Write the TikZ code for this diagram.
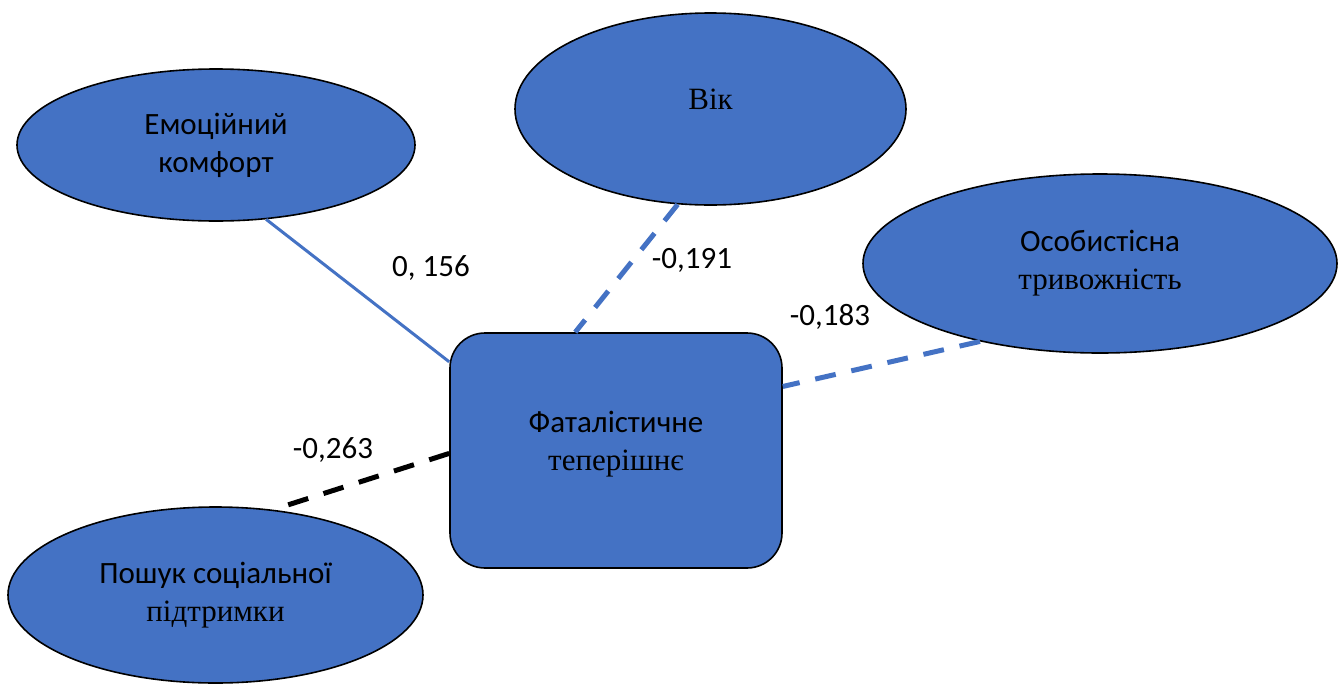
\documentclass[tikz,border=0pt]{standalone}
\usepackage{fontspec}
\setmainfont{Carlito}
\newfontfamily\tmsfont{Liberation Serif}
\usetikzlibrary{shapes.geometric}
\definecolor{accblue}{HTML}{4472C4}
\tikzset{
  factor/.style={ellipse, draw=black, line width=1.6pt, fill=accblue, inner sep=0pt, align=center, font=\fontsize{31}{38}\selectfont},
  fatbox/.style={rectangle, rounded corners=35pt, draw=black, line width=1.6pt, fill=accblue, inner sep=0pt, align=center, font=\fontsize{31}{38}\selectfont},
  coef/.style={font=\fontsize{31}{38}\selectfont, inner sep=0pt},
  wline/.style={accblue, line width=3pt},
  wdash/.style={accblue, line width=5pt, dash pattern=on 21pt off 16pt},
  bdash/.style={black, line width=5pt, dash pattern=on 21pt off 16pt}
}

\begin{document}
\begin{tikzpicture}[x=1pt, y=-1pt]
  \useasboundingbox (0,0) rectangle (1343,683);
  \node[factor, minimum width=398, minimum height=152] (emo) at (216,145) {Емоційний\\комфорт};
  \node[factor, minimum width=391, minimum height=192, text depth=20pt] (vik) at (710.5,109) {\tmsfont Вік};
  \node[factor, minimum width=474, minimum height=179] (osob) at (1100,263.5) {Особистісна\\{\tmsfont тривожність}};
  \node[factor, minimum width=415, minimum height=176] (posh) at (215.5,595) {Пошук соціальної\\{\tmsfont підтримки}};
  \node[fatbox, minimum width=332, minimum height=235, text depth=19pt] (fat) at (616,450.5) {Фаталістичне\\{\tmsfont теперішнє}};

  \draw[wline] (emo.-56) -- (fat.152.5);
  \draw[wdash] (vik.251) -- (fat.109);
  \draw[wdash] (osob.213) -- (fat.21);
  \draw[bdash] (fat.181.5) -- (posh.56);

  \node[coef] (c1) at (431,268) {0, 156};
  \node[coef] (c2) at (692,260) {-0,191};
  \node[coef] (c3) at (830,317) {-0,183};
  \node[coef] (c4) at (333,450) {-0,263};
\end{tikzpicture}
\end{document}
